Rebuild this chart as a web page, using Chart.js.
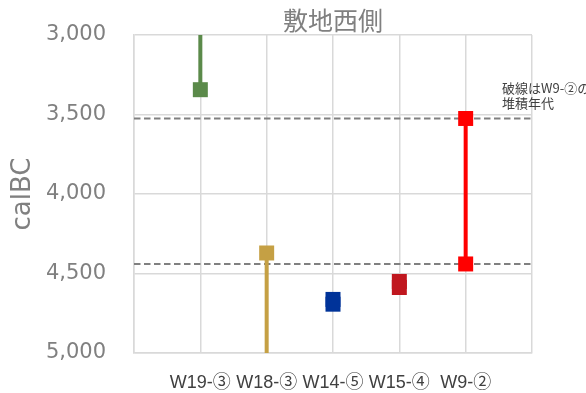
<!DOCTYPE html>
<html lang="ja">
<head>
<meta charset="UTF-8">
<script src="https://cdn.jsdelivr.net/npm/chart.js"></script>
<title>敷地西側</title>
<style>
	body { margin: 0; background: #fff; }
	#zona { width: 586px; height: 393px; }
</style>
</head>
<body>
<div id="zona"><canvas id="myChart" width="586" height="393"></canvas></div>
<script>
// datos del grafico
const categories = ['W19-③', 'W18-③', 'W14-⑤', 'W15-④', 'W9-②'];
const rangeTop = [2900, 4371, 4663, 4550, 3525];     // valor superior (calBC)
const rangeBottom = [3344, 5100, 4693, 4588, 4440];  // valor inferior (calBC)
const markTop = [false, true, true, true, true];
const markBottom = [true, false, true, true, true];
const colors = ['#5B8A4A', '#C5A044', '#003399', '#C0171F', '#FF0000'];
const dashedLevels = [3525, 4440];
const yTicks = [3000, 3500, 4000, 4500, 5000];

const datasets = [];
categories.forEach(function(cat, i) {
	datasets.push({
		label: cat,
		data: [{ x: i + 1, y: rangeTop[i] }, { x: i + 1, y: rangeBottom[i] }],
		borderColor: colors[i],
		backgroundColor: colors[i],
		borderWidth: 4,
		pointStyle: 'rect',
		pointRadius: [markTop[i] ? 10.6 : 0, markBottom[i] ? 10.6 : 0],
		pointBorderWidth: 0
	});
});
dashedLevels.forEach(function(v) {
	datasets.push({
		label: 'dashed',
		data: [{ x: 0, y: v }, { x: categories.length + 1, y: v }],
		borderColor: '#808080',
		borderWidth: 2,
		borderDash: [6.5, 3.5],
		pointRadius: 0
	});
});

// titulo (centrado sobre el area del grafico) y nota a la derecha
const textosPlugin = {
	id: 'textos',
	afterDraw(chart) {
		const ctx = chart.ctx;
		const a = chart.chartArea;
		ctx.save();
		ctx.textBaseline = 'middle';
		ctx.textAlign = 'center';
		ctx.font = '25px "Noto Sans CJK JP"';
		ctx.fillStyle = '#808080';
		ctx.fillText('敷地西側', (a.left + a.right) / 2, 20);

		ctx.textAlign = 'left';
		ctx.font = '13px "Noto Sans CJK JP"';
		ctx.fillStyle = '#404040';
		ctx.fillText('破線はW9-②の', a.right - 30, a.top + 53);
		ctx.fillText('堆積年代', a.right - 30, a.top + 68);
		ctx.restore();
	}
};

const ctx = document.getElementById('myChart').getContext('2d');
new Chart(ctx, {
	type: 'line',
	data: { datasets: datasets },
	options: {
		responsive: false,
		animation: false,
		devicePixelRatio: 1,
		layout: { padding: { left: 0, right: 54, top: 35, bottom: 0 } },
		plugins: {
			legend: { display: false },
			tooltip: { enabled: false },
			title: { display: false }
		},
		scales: {
			x: {
				type: 'linear',
				min: 0,
				max: categories.length + 1,
				afterFit(scale) { scale.height = 40; },
				grid: { color: '#d9d9d9', lineWidth: 1.5, drawTicks: false },
				border: { color: '#d9d9d9', width: 1.5 },
				ticks: {
					stepSize: 1,
					autoSkip: false,
					maxRotation: 0,
					padding: 19,
					color: '#404040',
					font: { family: '"Liberation Sans", "Noto Sans CJK JP"', size: 18 },
					callback: function(v) { return categories[v - 1] || ''; }
				}
			},
			y: {
				type: 'linear',
				reverse: true,
				min: 3000,
				max: 5000,
				afterFit(scale) {
					scale.width = 134;
					// el padding de los ticks no debe empujar el area hacia abajo
					scale.paddingTop = 0;
					scale.paddingBottom = 0;
				},
				afterBuildTicks(scale) { scale.ticks = yTicks.map(v => ({ value: v })); },
				grid: { color: '#d9d9d9', lineWidth: 1.5, drawTicks: false },
				border: { color: '#d9d9d9', width: 1.5 },
				ticks: {
					padding: 28,
					color: '#808080',
					font: { family: '"DejaVu Sans"', size: 21 },
					callback: function(v) { return v.toLocaleString('en-US'); }
				},
				title: {
					display: true,
					text: 'calBC',
					color: '#808080',
					font: { family: '"DejaVu Sans"', size: 26 },
					padding: { top: 8, bottom: 0 }
				}
			}
		}
	},
	plugins: [textosPlugin]
});
</script>
</body>
</html>
